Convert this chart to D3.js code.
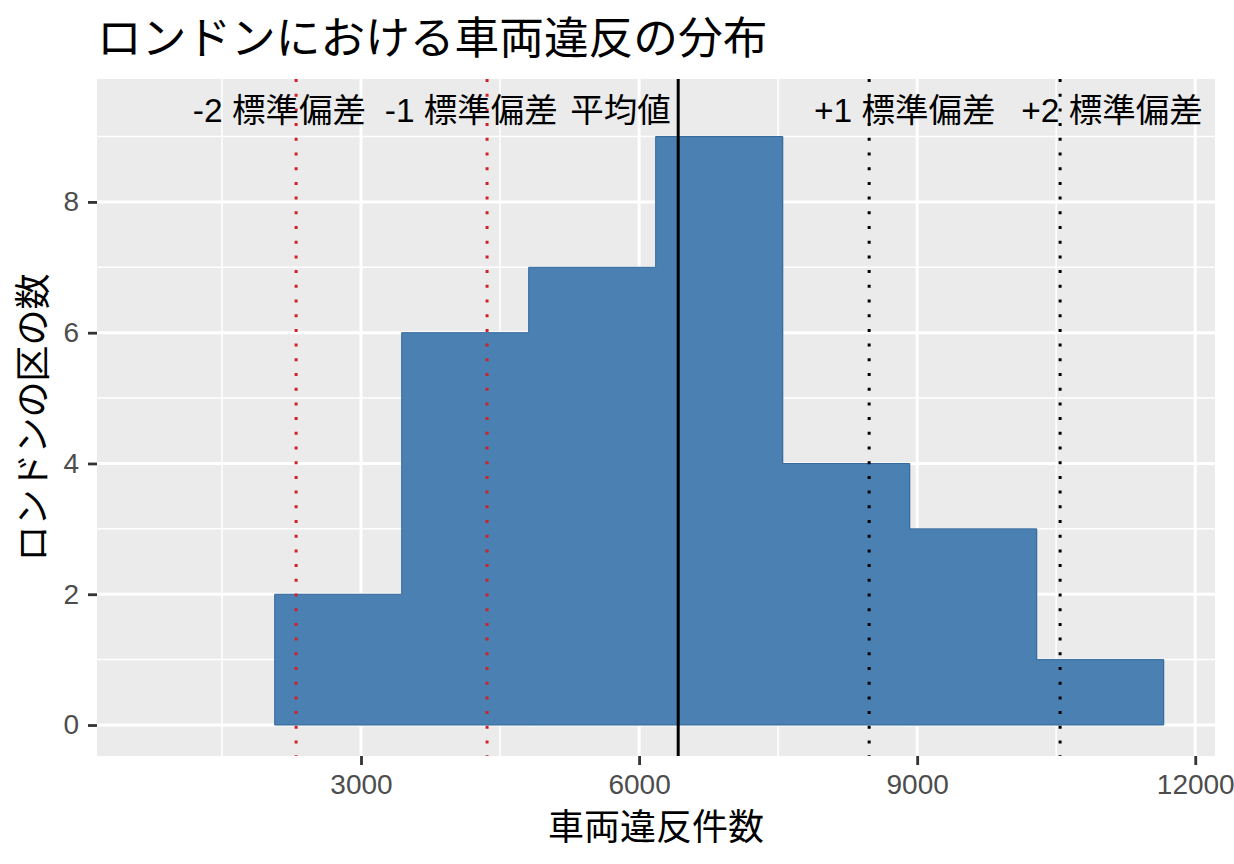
<!DOCTYPE html>
<html>
<head>
<meta charset="utf-8">
<script src="https://cdn.jsdelivr.net/npm/d3@7"></script>
<style>
  body { margin: 0; background: #fff; }
  text { font-family: "Liberation Sans", "Noto Sans CJK JP", sans-serif; }
</style>
</head>
<body>
<div id="chart"></div>
<script>
//DATA
const binEdges  = [2069, 3439, 4809, 6179, 7549, 8919, 10289, 11659];
const binCounts = [2, 6, 7, 9, 4, 3, 1];

const xTicks = [3000, 6000, 9000, 12000];
const xMinor = [1500, 4500, 7500, 10500];
const yTicks = [0, 2, 4, 6, 8];
const yMinor = [1, 3, 5, 7, 9];

const refValues = [2300, 4360, 6422, 8482, 10542];
const refLabels = ["-2 標準偏差", "-1 標準偏差", "平均値", "+1 標準偏差", "+2 標準偏差"];
const refLabelX = [2120, 4190, 5800, 8865, 11101];
const refKinds  = ["red", "red", "mean", "black", "black"];
const refLabelY = 9.4;

const title  = "ロンドンにおける車両違反の分布";
const xTitle = "車両違反件数";
const yTitle = "ロンドンの区の数";

//LAYOUT AND SIZING
const W = 1234, H = 864;
const panel = {left: 97, right: 1215, top: 79, bottom: 756};

const svg = d3.select("#chart").append("svg")
  .attr("width", W).attr("height", H);

const x = d3.scaleLinear().domain([152, 12213]).range([panel.left, panel.right]);
const y = d3.scaleLinear().domain([-0.474, 9.88]).range([panel.bottom, panel.top]);

//Panel background
svg.append("rect")
  .attr("x", panel.left).attr("y", panel.top)
  .attr("width", panel.right - panel.left).attr("height", panel.bottom - panel.top)
  .attr("fill", "#EBEBEB");

//Grid lines
const grid = svg.append("g");
grid.selectAll(".minx").data(xMinor).join("line")
  .attr("x1", d => x(d)).attr("x2", d => x(d))
  .attr("y1", panel.top).attr("y2", panel.bottom)
  .attr("stroke", "#fff").attr("stroke-width", 1.5);
grid.selectAll(".miny").data(yMinor).join("line")
  .attr("y1", d => y(d)).attr("y2", d => y(d))
  .attr("x1", panel.left).attr("x2", panel.right)
  .attr("stroke", "#fff").attr("stroke-width", 1.5);
grid.selectAll(".majx").data(xTicks).join("line")
  .attr("x1", d => x(d)).attr("x2", d => x(d))
  .attr("y1", panel.top).attr("y2", panel.bottom)
  .attr("stroke", "#fff").attr("stroke-width", 3);
grid.selectAll(".majy").data(yTicks).join("line")
  .attr("y1", d => y(d)).attr("y2", d => y(d))
  .attr("x1", panel.left).attr("x2", panel.right)
  .attr("stroke", "#fff").attr("stroke-width", 3);

//Histogram bars
const bins = binCounts.map((c, i) => ({x0: binEdges[i], x1: binEdges[i + 1], n: c}));
svg.append("g").selectAll("rect").data(bins).join("rect")
  .attr("x", b => x(b.x0))
  .attr("y", b => y(b.n))
  .attr("width", b => x(b.x1) - x(b.x0) + 0.5)
  .attr("height", b => y(0) - y(b.n))
  .attr("fill", "#4A80B2");

//Outer outline of the histogram (closed along the baseline)
const outline = [[bins[0].x0, 0]];
bins.forEach(b => { outline.push([b.x0, b.n], [b.x1, b.n]); });
outline.push([bins[bins.length - 1].x1, 0]);
svg.append("path")
  .datum(outline)
  .attr("d", d => d3.line().x(p => x(p[0])).y(p => y(p[1]))(d) + "Z")
  .attr("fill", "none")
  .attr("stroke", "#34689A")
  .attr("stroke-width", 1);

//Reference lines
const refs = refValues.map((v, i) => ({v, label: refLabels[i], lx: refLabelX[i], kind: refKinds[i]}));
svg.append("g").selectAll("line").data(refs).join("line")
  .attr("x1", d => x(d.v)).attr("x2", d => x(d.v))
  .attr("y1", panel.top).attr("y2", panel.bottom)
  .attr("stroke", d => d.kind === "red" ? "#D0202A" : "#000")
  .attr("stroke-width", 3)
  .attr("stroke-dasharray", d => d.kind === "mean" ? null : "3 11.7");

svg.append("g").selectAll("text").data(refs).join("text")
  .attr("x", d => x(d.lx))
  .attr("y", y(refLabelY) + 12)
  .attr("text-anchor", "middle")
  .attr("font-size", 33.5)
  .attr("fill", "#000")
  .text(d => d.label);

//Axes
const xAxis = svg.append("g")
  .attr("transform", `translate(0,${panel.bottom})`)
  .call(d3.axisBottom(x).tickValues(xTicks).tickSize(9).tickPadding(9).tickFormat(d3.format("d")));
const yAxis = svg.append("g")
  .attr("transform", `translate(${panel.left},0)`)
  .call(d3.axisLeft(y).tickValues(yTicks).tickSize(9).tickPadding(9));

[xAxis, yAxis].forEach(a => {
  a.select(".domain").remove();
  a.selectAll(".tick line").attr("stroke", "#333").attr("stroke-width", 2.8);
  a.selectAll(".tick text")
    .attr("fill", "#4D4D4D")
    .attr("font-size", 28)
    .style("font-family", "'Liberation Sans', 'Noto Sans CJK JP', sans-serif");
});
xAxis.selectAll(".tick text").attr("dy", "0.72em");

//Titles
svg.append("text")
  .attr("x", panel.left).attr("y", 54)
  .attr("font-size", 44.7).attr("fill", "#000")
  .text(title);

svg.append("text")
  .attr("x", (panel.left + panel.right) / 2).attr("y", 840)
  .attr("text-anchor", "middle")
  .attr("font-size", 36).attr("fill", "#000")
  .text(xTitle);

svg.append("text")
  .attr("transform", `translate(46,${(panel.top + panel.bottom) / 2}) rotate(-90)`)
  .attr("text-anchor", "middle")
  .attr("font-size", 36).attr("fill", "#000")
  .text(yTitle);
</script>
</body>
</html>
